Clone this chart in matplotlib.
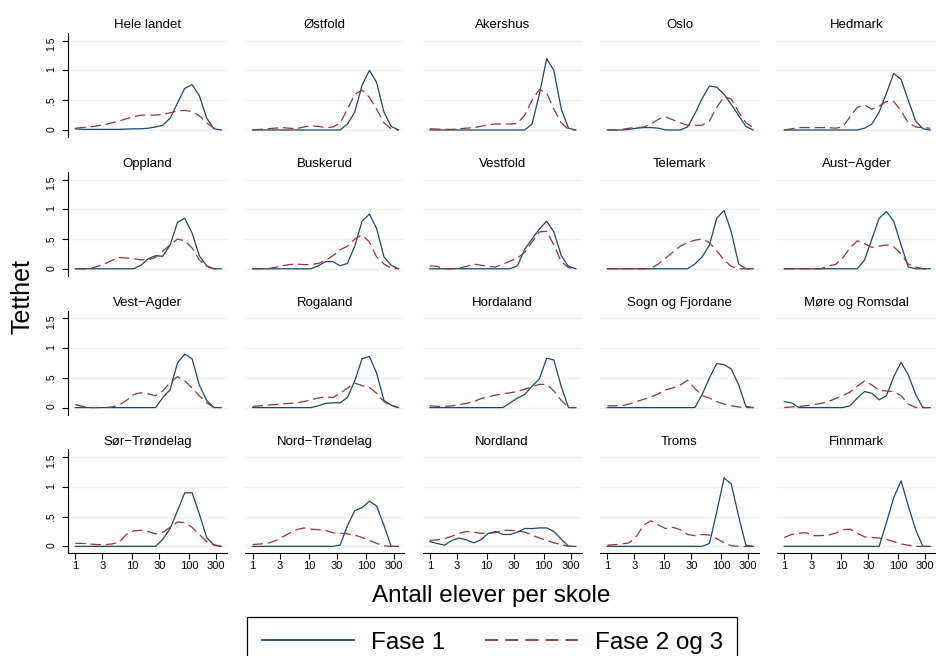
import matplotlib
matplotlib.use("Agg")
import matplotlib.pyplot as plt
from matplotlib.lines import Line2D
from matplotlib.ticker import NullLocator

plt.rcParams['font.family'] = ['Liberation Sans', 'DejaVu Sans']
plt.rcParams['lines.scale_dashes'] = False

# antall elever per skole (logaritmisk akse), felles for alle kurver
elever = [1, 1.34, 1.81, 2.43, 3.26, 4.38, 5.88, 7.9, 10.6, 14.3, 19.2,
          25.8, 34.6, 46.5, 62.5, 83.9, 113, 151, 204, 273, 367]

# tetthet, fase 1 (_1) og fase 2 og 3 (_2)
hele_landet_1 = [0.02, 0.01, 0.01, 0.01, 0.01, 0.01, 0.01, 0.015, 0.02, 0.02, 0.03, 0.05, 0.08, 0.2, 0.45, 0.7, 0.76, 0.58, 0.2, 0.02, 0]
hele_landet_2 = [0.03, 0.04, 0.05, 0.07, 0.09, 0.12, 0.15, 0.19, 0.22, 0.25, 0.25, 0.25, 0.26, 0.29, 0.32, 0.33, 0.31, 0.24, 0.12, 0.03, 0]
ostfold_1 = [0, 0, 0, 0, 0, 0, 0, 0, 0, 0, 0, 0, 0, 0.1, 0.3, 0.75, 1.0, 0.8, 0.3, 0.06, 0]
ostfold_2 = [0, 0.01, 0.02, 0.03, 0.04, 0.03, 0.02, 0.05, 0.07, 0.06, 0.04, 0.05, 0.12, 0.35, 0.6, 0.67, 0.55, 0.35, 0.12, 0.02, 0]
akershus_1 = [0, 0, 0, 0, 0, 0, 0, 0, 0, 0, 0, 0, 0, 0, 0.1, 0.6, 1.2, 1.0, 0.35, 0.03, 0]
akershus_2 = [0.02, 0.015, 0.01, 0.01, 0.02, 0.03, 0.04, 0.06, 0.09, 0.1, 0.1, 0.1, 0.11, 0.25, 0.5, 0.68, 0.62, 0.35, 0.12, 0.01, 0]
oslo_1 = [0, 0, 0, 0.01, 0.03, 0.04, 0.04, 0.03, 0, 0, 0, 0.05, 0.27, 0.53, 0.74, 0.72, 0.6, 0.43, 0.24, 0.06, 0]
oslo_2 = [0, 0, 0.01, 0.03, 0.04, 0.05, 0.1, 0.18, 0.22, 0.17, 0.12, 0.08, 0.08, 0.08, 0.15, 0.38, 0.56, 0.52, 0.3, 0.12, 0.04]
hedmark_1 = [0, 0, 0, 0, 0, 0, 0, 0, 0, 0, 0, 0.03, 0.1, 0.3, 0.62, 0.95, 0.85, 0.5, 0.15, 0.02, 0]
hedmark_2 = [0, 0.02, 0.04, 0.04, 0.04, 0.04, 0.04, 0.03, 0.05, 0.22, 0.38, 0.42, 0.35, 0.4, 0.48, 0.48, 0.32, 0.12, 0.05, 0.04, 0.03]
oppland_1 = [0, 0, 0, 0, 0, 0, 0, 0, 0, 0.06, 0.17, 0.22, 0.21, 0.4, 0.78, 0.85, 0.6, 0.22, 0.05, 0, 0]
oppland_2 = [0, 0, 0, 0.04, 0.08, 0.14, 0.19, 0.18, 0.17, 0.15, 0.15, 0.19, 0.3, 0.4, 0.5, 0.47, 0.35, 0.15, 0.04, 0, 0]
buskerud_1 = [0, 0, 0, 0, 0, 0, 0, 0, 0, 0.05, 0.12, 0.12, 0.05, 0.09, 0.38, 0.8, 0.92, 0.68, 0.2, 0.06, 0]
buskerud_2 = [0, 0, 0, 0.02, 0.05, 0.07, 0.08, 0.07, 0.07, 0.09, 0.14, 0.22, 0.32, 0.38, 0.5, 0.57, 0.45, 0.2, 0.08, 0.01, 0]
vestfold_1 = [0, 0, 0, 0, 0, 0, 0, 0, 0, 0, 0, 0, 0.05, 0.33, 0.5, 0.67, 0.8, 0.62, 0.22, 0.04, 0]
vestfold_2 = [0.05, 0.04, 0, 0, 0.01, 0.04, 0.08, 0.06, 0.04, 0.03, 0.08, 0.13, 0.18, 0.28, 0.45, 0.62, 0.63, 0.4, 0.12, 0.02, 0]
telemark_1 = [0, 0, 0, 0, 0, 0, 0, 0, 0, 0, 0, 0, 0.08, 0.2, 0.4, 0.85, 0.98, 0.62, 0.08, 0, 0]
telemark_2 = [0, 0, 0, 0, 0, 0, 0.01, 0.08, 0.18, 0.28, 0.38, 0.44, 0.48, 0.5, 0.44, 0.3, 0.15, 0.04, 0, 0, 0]
aust_agder_1 = [0, 0, 0, 0, 0, 0, 0, 0, 0, 0, 0, 0.15, 0.5, 0.85, 0.96, 0.8, 0.4, 0.03, 0, 0, 0]
aust_agder_2 = [0, 0, 0, 0, 0, 0, 0.05, 0.07, 0.18, 0.35, 0.47, 0.42, 0.36, 0.38, 0.4, 0.37, 0.25, 0.08, 0.03, 0, 0]
vest_agder_1 = [0, 0, 0, 0, 0, 0, 0, 0, 0, 0, 0, 0, 0.17, 0.3, 0.75, 0.9, 0.82, 0.38, 0.12, 0, 0]
vest_agder_2 = [0.05, 0.02, 0, 0, 0, 0.01, 0.04, 0.12, 0.22, 0.25, 0.23, 0.2, 0.28, 0.42, 0.52, 0.45, 0.33, 0.2, 0.08, 0, 0]
rogaland_1 = [0, 0, 0, 0, 0, 0, 0, 0, 0, 0.03, 0.07, 0.08, 0.08, 0.17, 0.45, 0.82, 0.86, 0.58, 0.12, 0.04, 0]
rogaland_2 = [0.02, 0.03, 0.04, 0.05, 0.06, 0.07, 0.08, 0.1, 0.13, 0.16, 0.18, 0.17, 0.24, 0.33, 0.41, 0.37, 0.34, 0.24, 0.1, 0.03, 0]
hordaland_1 = [0, 0, 0, 0, 0, 0, 0, 0, 0, 0, 0, 0.08, 0.16, 0.22, 0.36, 0.48, 0.83, 0.8, 0.35, 0, 0]
hordaland_2 = [0.03, 0.02, 0.02, 0.03, 0.05, 0.07, 0.1, 0.15, 0.18, 0.21, 0.23, 0.25, 0.27, 0.31, 0.35, 0.39, 0.39, 0.28, 0.12, 0, 0]
sogn_1 = [0, 0, 0, 0, 0, 0, 0, 0, 0, 0, 0, 0, 0, 0.22, 0.5, 0.74, 0.72, 0.65, 0.38, 0.02, 0]
sogn_2 = [0.03, 0.03, 0.03, 0.06, 0.1, 0.14, 0.18, 0.23, 0.3, 0.33, 0.38, 0.46, 0.32, 0.2, 0.16, 0.1, 0.06, 0.03, 0.01, 0, 0]
more_1 = [0.1, 0.08, 0, 0, 0, 0, 0, 0, 0, 0.03, 0.16, 0.27, 0.24, 0.13, 0.2, 0.52, 0.76, 0.55, 0.22, 0, 0]
more_2 = [0, 0.01, 0.02, 0.03, 0.05, 0.07, 0.1, 0.15, 0.2, 0.26, 0.36, 0.45, 0.38, 0.29, 0.28, 0.27, 0.2, 0.06, 0, 0, 0]
sor_trondelag_1 = [0, 0, 0, 0, 0, 0, 0, 0, 0, 0, 0, 0, 0.12, 0.3, 0.6, 0.9, 0.9, 0.55, 0.15, 0.02, 0]
sor_trondelag_2 = [0.05, 0.05, 0.04, 0.03, 0.03, 0.04, 0.07, 0.2, 0.26, 0.27, 0.25, 0.21, 0.24, 0.32, 0.41, 0.4, 0.32, 0.2, 0.08, 0.03, 0]
nord_trondelag_1 = [0, 0, 0, 0, 0, 0, 0, 0, 0, 0, 0, 0, 0.02, 0.35, 0.6, 0.65, 0.76, 0.68, 0.35, 0, 0]
nord_trondelag_2 = [0.03, 0.04, 0.05, 0.09, 0.15, 0.22, 0.28, 0.31, 0.29, 0.28, 0.27, 0.23, 0.22, 0.21, 0.19, 0.15, 0.1, 0.05, 0.01, 0, 0]
nordland_1 = [0.08, 0.05, 0.02, 0.1, 0.14, 0.11, 0.06, 0.11, 0.22, 0.25, 0.2, 0.2, 0.24, 0.3, 0.3, 0.31, 0.31, 0.25, 0.12, 0, 0]
nordland_2 = [0.1, 0.11, 0.13, 0.17, 0.22, 0.25, 0.24, 0.22, 0.22, 0.23, 0.27, 0.27, 0.26, 0.24, 0.19, 0.14, 0.1, 0.06, 0.03, 0, 0]
troms_1 = [0, 0, 0, 0, 0, 0, 0, 0, 0, 0, 0, 0, 0, 0, 0.05, 0.58, 1.15, 1.05, 0.5, 0.02, 0]
troms_2 = [0.02, 0.03, 0.04, 0.06, 0.17, 0.36, 0.43, 0.36, 0.3, 0.32, 0.28, 0.2, 0.18, 0.2, 0.19, 0.13, 0.06, 0.01, 0, 0, 0]
finnmark_1 = [0, 0, 0, 0, 0, 0, 0, 0, 0, 0, 0, 0, 0, 0, 0.4, 0.82, 1.1, 0.68, 0.28, 0, 0]
finnmark_2 = [0.15, 0.2, 0.22, 0.23, 0.18, 0.18, 0.19, 0.22, 0.28, 0.29, 0.22, 0.16, 0.15, 0.14, 0.12, 0.08, 0.04, 0.02, 0, 0, 0]

paneler = [
    ("Hele landet", hele_landet_1, hele_landet_2),
    ("Østfold", ostfold_1, ostfold_2),
    ("Akershus", akershus_1, akershus_2),
    ("Oslo", oslo_1, oslo_2),
    ("Hedmark", hedmark_1, hedmark_2),
    ("Oppland", oppland_1, oppland_2),
    ("Buskerud", buskerud_1, buskerud_2),
    ("Vestfold", vestfold_1, vestfold_2),
    ("Telemark", telemark_1, telemark_2),
    ("Aust\u2212Agder", aust_agder_1, aust_agder_2),
    ("Vest\u2212Agder", vest_agder_1, vest_agder_2),
    ("Rogaland", rogaland_1, rogaland_2),
    ("Hordaland", hordaland_1, hordaland_2),
    ("Sogn og Fjordane", sogn_1, sogn_2),
    ("Møre og Romsdal", more_1, more_2),
    ("Sør\u2212Trøndelag", sor_trondelag_1, sor_trondelag_2),
    ("Nord\u2212Trøndelag", nord_trondelag_1, nord_trondelag_2),
    ("Nordland", nordland_1, nordland_2),
    ("Troms", troms_1, troms_2),
    ("Finnmark", finnmark_1, finnmark_2),
]

xticks = [1, 3, 10, 30, 100, 300]
yticks = [0, 0.5, 1, 1.5]
ylabels = ["0", ".5", "1", "1.5"]

navy = "#1a476f"
maroon = "#90353b"

W, H = 936, 656
fig = plt.figure(figsize=(9.36, 6.56), dpi=100)

col_left = [68, 245.3, 422.6, 600, 777]
row_top = [33, 171.8, 310.6, 449.4]
aw, ah = 159, 104

for i, (navn, f1, f2) in enumerate(paneler):
    r, c = divmod(i, 5)
    ax = fig.add_axes([col_left[c] / W, (H - row_top[r] - ah) / H, aw / W, ah / H])
    ax.set_xscale("log")
    ax.plot(elever, f1, color=navy, lw=0.9)
    ax.plot(elever, f2, color=maroon, lw=0.9, dashes=(7.5, 3.5))
    ax.set_xlim(0.745, 464)
    ax.set_ylim(-0.118, 1.63)
    ax.set_xticks(xticks)
    ax.set_xticklabels([str(t) for t in xticks])
    ax.xaxis.set_minor_locator(NullLocator())
    ax.set_yticks(yticks)
    ax.set_yticklabels(ylabels)
    ax.grid(axis="y", color="#eaf2f3", lw=1)
    ax.set_axisbelow(True)
    for s in ax.spines.values():
        s.set_visible(False)
    ax.set_title(navn, fontsize=9.5, pad=3.4)

    if c == 0:
        ax.spines["left"].set_visible(True)
        ax.spines["left"].set_linewidth(0.8)
        ax.tick_params(axis="y", length=4.3, width=0.8, pad=4, labelsize=7.5, labelrotation=90)
    else:
        ax.tick_params(axis="y", left=False, labelleft=False)
    if r == 3:
        ax.spines["bottom"].set_visible(True)
        ax.spines["bottom"].set_linewidth(0.8)
        ax.tick_params(axis="x", length=4.3, width=0.8, pad=1.5, labelsize=8)
    else:
        ax.tick_params(axis="x", bottom=False, labelbottom=False)

fig.text(22 / W, 1 - 297 / H, "Tetthet", rotation=90, ha="center", va="center", fontsize=18)
fig.text(491 / W, 1 - 602 / H, "Antall elever per skole", ha="center", va="baseline", fontsize=17.5)

handles = [Line2D([], [], color=navy, lw=1.3),
           Line2D([], [], color=maroon, lw=1.3, dashes=(9.5, 5))]
leg = fig.legend(handles, ["Fase 1", "Fase 2 og 3"], loc="upper left",
                 bbox_to_anchor=(247 / W, 1 - 617 / H), borderaxespad=0, ncol=2, fontsize=17.5,
                 frameon=True, fancybox=False, edgecolor="black", framealpha=1,
                 handlelength=3.8, handletextpad=0.7, columnspacing=1.65, borderpad=0.6)
leg.get_frame().set_linewidth(0.9)

fig.savefig("out.png", dpi=100)
